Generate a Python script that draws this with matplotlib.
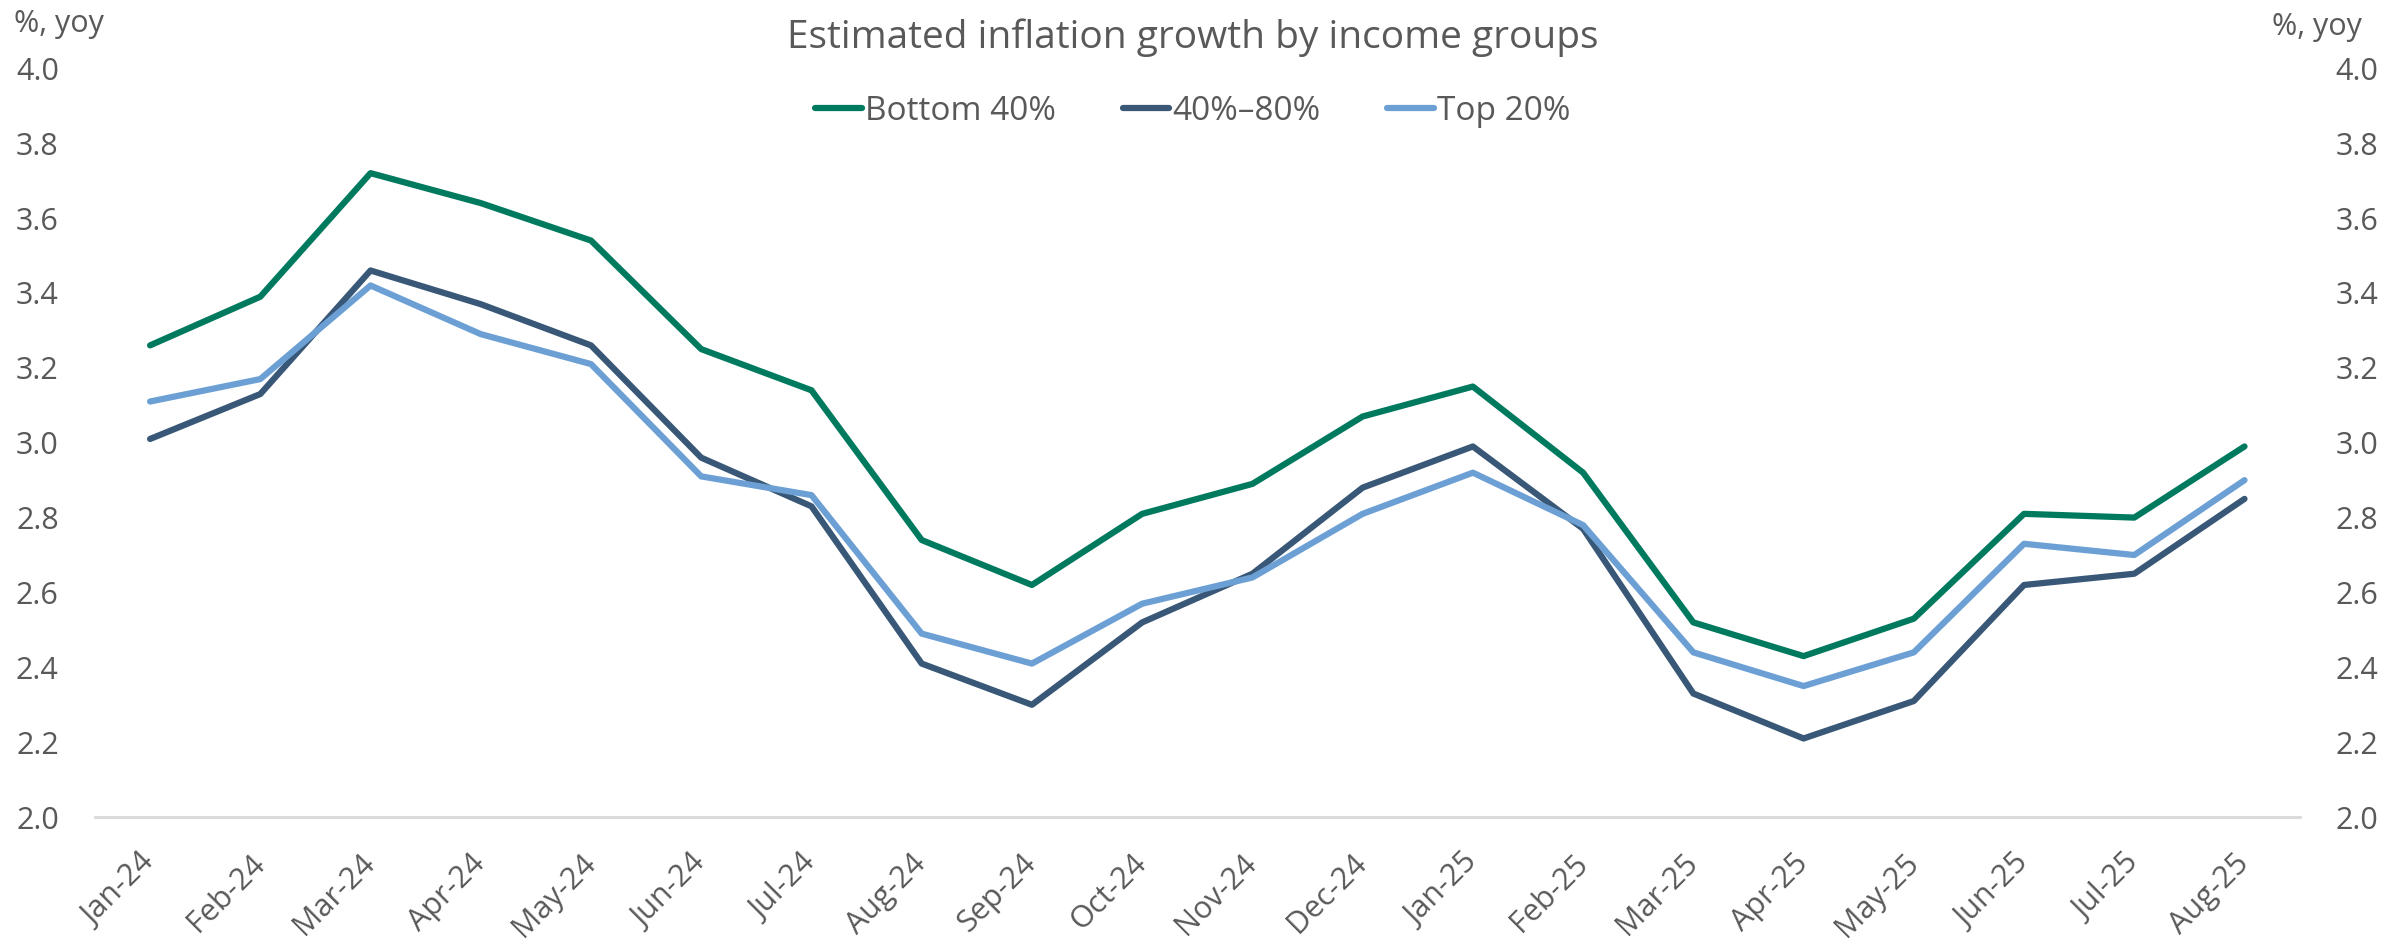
import matplotlib
matplotlib.use('Agg')
import matplotlib.pyplot as plt

plt.rcParams['font.family'] = ['Open Sans', 'DejaVu Sans']

months = ['Jan-24', 'Feb-24', 'Mar-24', 'Apr-24', 'May-24', 'Jun-24', 'Jul-24',
          'Aug-24', 'Sep-24', 'Oct-24', 'Nov-24', 'Dec-24', 'Jan-25', 'Feb-25',
          'Mar-25', 'Apr-25', 'May-25', 'Jun-25', 'Jul-25', 'Aug-25']
bottom_40 = [3.26, 3.39, 3.72, 3.64, 3.54, 3.25, 3.14, 2.74, 2.62, 2.81,
             2.89, 3.07, 3.15, 2.92, 2.52, 2.43, 2.53, 2.81, 2.80, 2.99]
mid_40_80 = [3.01, 3.13, 3.46, 3.37, 3.26, 2.96, 2.83, 2.41, 2.30, 2.52,
             2.65, 2.88, 2.99, 2.77, 2.33, 2.21, 2.31, 2.62, 2.65, 2.85]
top_20 = [3.11, 3.17, 3.42, 3.29, 3.21, 2.91, 2.86, 2.49, 2.41, 2.57,
          2.64, 2.81, 2.92, 2.78, 2.44, 2.35, 2.44, 2.73, 2.70, 2.90]
y_ticks = [2.0, 2.2, 2.4, 2.6, 2.8, 3.0, 3.2, 3.4, 3.6, 3.8, 4.0]

text_col = '#595959'

fig = plt.figure(figsize=(23.86, 9.49), dpi=100)
ax = fig.add_axes([0.0398, 0.139, 0.924, 0.789])

x = range(len(months))
ax.plot(x, bottom_40, color='#007A5E', lw=4.5, label='Bottom 40%', solid_capstyle='round')
ax.plot(x, mid_40_80, color='#395877', lw=4.5, label='40%\u201380%', solid_capstyle='round')
ax.plot(x, top_20, color='#6CA0D5', lw=4.5, label='Top 20%', solid_capstyle='round')

ax.set_xlim(-0.5, len(months) - 0.5)
ax.set_ylim(2.0, 4.0)
ax.set_yticks(y_ticks)
ax.set_yticklabels([f'{v:.1f}' for v in y_ticks])
ax.set_xticks(list(x))
ax.set_xticklabels(months, rotation=45, ha='right', va='center', rotation_mode='anchor')

for s in ['top', 'left', 'right']:
    ax.spines[s].set_visible(False)
ax.spines['bottom'].set_color('#d9d9d9')
ax.spines['bottom'].set_linewidth(2)
ax.tick_params(axis='x', length=0, pad=30, labelsize=22, labelcolor=text_col)
ax.tick_params(axis='y', length=0, pad=26, labelsize=22, labelcolor=text_col,
               labelright=True)

fig.text(0.006, 0.975, '%, yoy', fontsize=22, color=text_col, ha='left', va='center')
fig.text(0.990, 0.972, '%, yoy', fontsize=22, color=text_col, ha='right', va='center')
fig.text(0.5, 0.96, 'Estimated inflation growth by income groups', fontsize=28,
         color=text_col, ha='center', va='center')

leg = fig.legend(loc='center', bbox_to_anchor=(0.5, 0.883), ncol=3, frameon=False,
                 fontsize=24, handlelength=1.4, handletextpad=0.1, columnspacing=2.0)
for t in leg.get_texts():
    t.set_color(text_col)

fig.savefig('out.png', dpi=100)
